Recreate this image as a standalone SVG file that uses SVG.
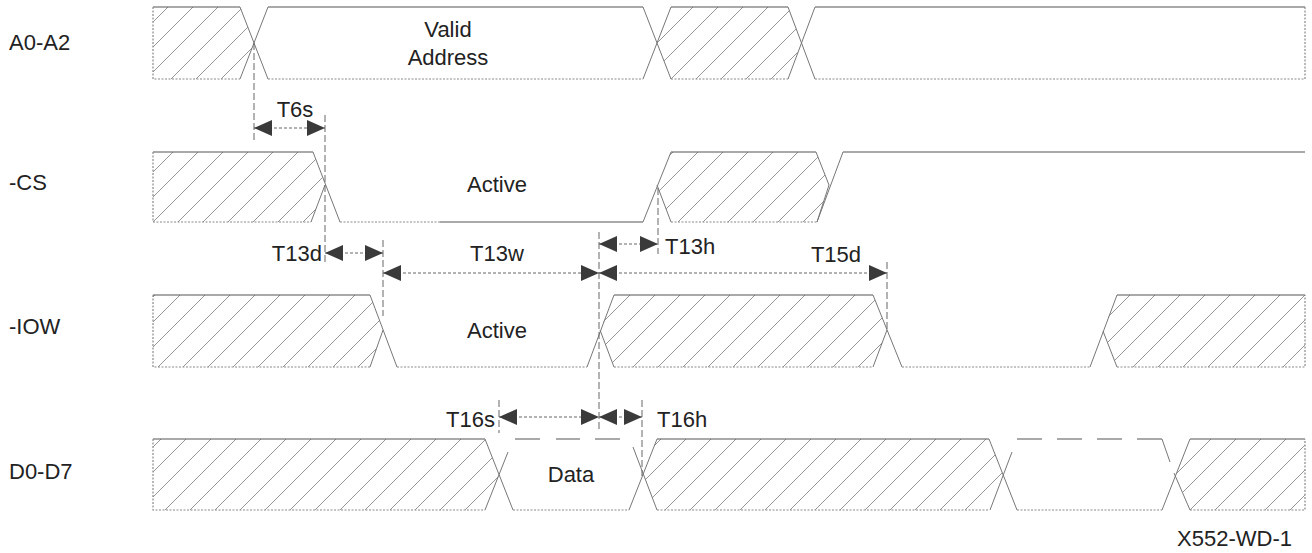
<svg xmlns="http://www.w3.org/2000/svg" width="1312" height="553" viewBox="0 0 1312 553">
<defs>
<pattern id="hatch" patternUnits="userSpaceOnUse" width="25" height="25">
<path d="M0,25 L25,0 M-5,5 L5,-5 M20,30 L30,20" stroke="#8a8a8a" stroke-width="0.9" fill="none"/>
</pattern>
<marker id="ah" viewBox="0 0 18 16" markerWidth="18" markerHeight="16" refX="18" refY="8" orient="auto-start-reverse" markerUnits="userSpaceOnUse">
<path d="M0,0 L18,8 L0,16 z" fill="#3a3a3a"/>
</marker>
<style>
.top{stroke:#555;stroke-width:1.2;fill:none}
.bot{stroke:#8a8a8a;stroke-width:1.2;stroke-dasharray:2 1.5;fill:none}
.edge{stroke:#777;stroke-width:1;fill:none}
.hz{fill:url(#hatch);stroke:none}
.zdash{stroke:#555;stroke-width:1.2;fill:none}
.ref{stroke:#666;stroke-width:1;stroke-dasharray:7 3;fill:none}
.dim{stroke:#666;stroke-width:1;stroke-dasharray:3 2;fill:none;marker-start:url(#ah);marker-end:url(#ah)}
text{font-family:"Liberation Sans",Arial,sans-serif;font-size:22px;fill:#222}
.c{text-anchor:middle}
.r{text-anchor:end}
</style>
</defs>
<rect width="1312" height="553" fill="#fff"/>

<g id="sig-a0a2">
<text x="9" y="50">A0-A2</text>
<polygon class="hz" points="153,7 240,7 254,43 240,79 153,79"/>
<polygon class="hz" points="657,43 671,7 788,7 801,43 788,79 671,79"/>
<path class="top" d="M153,7 H240 M268,7 H643 M671,7 H788 M815,7 H1305"/>
<path class="bot" d="M153,7 V79 H240 M268,79 H643 M671,79 H788 M815,79 H1305 V7"/>
<path class="edge" d="M240,7 L268,79 M240,79 L268,7 M643,7 L671,79 M643,79 L671,7 M788,7 L815,79 M788,79 L815,7"/>
<text class="c" x="448" y="37">Valid</text>
<text class="c" x="448" y="65">Address</text>
</g>

<g id="sig-cs">
<text x="9" y="190">-CS</text>
<polygon class="hz" points="153,152 313,152 325,185 311,222 153,222"/>
<polygon class="hz" points="657,185 671,152 816,152 829,185 817,222 671,222"/>
<path class="top" d="M153,152 H313 M671,152 H816 M843,152 H1305 M440,222 H643"/>
<path class="bot" d="M153,152 V222 H311 M340,222 H440 M671,222 H817"/>
<path class="edge" d="M313,152 L340,222 M325,185 L311,222 M643,222 L671,152 M657,185 L671,222 M816,152 L829,185 L817,222 M817,222 L843,152"/>
<text class="c" x="497" y="192">Active</text>
</g>

<g id="sig-iow">
<text x="9" y="334">-IOW</text>
<polygon class="hz" points="153,295 370,295 383,330 370,367 153,367"/>
<polygon class="hz" points="600,330 614,295 873,295 887,330 873,367 614,367"/>
<polygon class="hz" points="1103,331 1117,295 1305,295 1305,367 1117,367"/>
<path class="top" d="M153,295 H370 M614,295 H873 M1117,295 H1305"/>
<path class="bot" d="M153,295 V367 H370 M397,367 H587 M614,367 H873 M902,367 H1090 M1117,367 H1305 V295"/>
<path class="edge" d="M370,295 L397,367 M383,330 L370,367 M587,367 L614,295 M600,330 L614,367 M873,295 L902,367 M887,330 L873,367 M1090,367 L1117,295 M1103,331 L1117,367"/>
<text class="c" x="497" y="338">Active</text>
</g>

<g id="sig-d0d7">
<text x="9" y="479">D0-D7</text>
<polygon class="hz" points="153,439 485,439 499,475 485,510 153,510"/>
<polygon class="hz" points="643,475 657,439 989,439 1003,475 989,510 657,510"/>
<polygon class="hz" points="1176,475 1190,439 1305,439 1305,510 1190,510"/>
<path class="top" d="M153,439 H485 M657,439 H989 M1190,439 H1305"/>
<path class="zdash" d="M515,439 H540 M556,439 H580 M595,439 H620 M1017,439 H1042 M1057,439 H1082 M1097,439 H1122 M1137,439 H1162"/>
<path class="bot" d="M153,439 V510 H485 M513,510 H629 M657,510 H989 M1017,510 H1162 M1190,510 H1305 V439"/>
<path class="edge" d="M485,439 L513,510 M485,510 L508,452 M629,510 L657,439 M633,447 L657,510 M989,439 L1017,510 M990,510 L1012,452 M1162,439 L1170,462 M1174,473 L1190,510 M1162,510 L1190,439"/>
<text class="c" x="571" y="482">Data</text>
</g>

<g id="connectors">
<path class="ref" d="M254,43 V140 M325,115 V262 M383,240 V316 M599,232 V430 M658,188 V254 M887,262 V330 M499,400 V433 M642,400 V476"/>
<line class="dim" x1="254" y1="128" x2="325" y2="128"/>
<line class="dim" x1="325" y1="253" x2="383" y2="253"/>
<line class="dim" x1="383" y1="273" x2="599" y2="273"/>
<line class="dim" x1="599" y1="244" x2="658" y2="244"/>
<line class="dim" x1="599" y1="273" x2="887" y2="273"/>
<line class="dim" x1="499" y1="417" x2="599" y2="417"/>
<line class="dim" x1="599" y1="417" x2="642" y2="417"/>
</g>

<g id="labels">
<text class="c" x="295" y="117">T6s</text>
<text class="r" x="322" y="261">T13d</text>
<text class="c" x="497" y="261">T13w</text>
<text x="665" y="254">T13h</text>
<text class="c" x="836" y="262">T15d</text>
<text class="r" x="495" y="427">T16s</text>
<text x="657" y="427">T16h</text>
<text class="r" x="1292" y="546">X552-WD-1</text>
</g>
</svg>
